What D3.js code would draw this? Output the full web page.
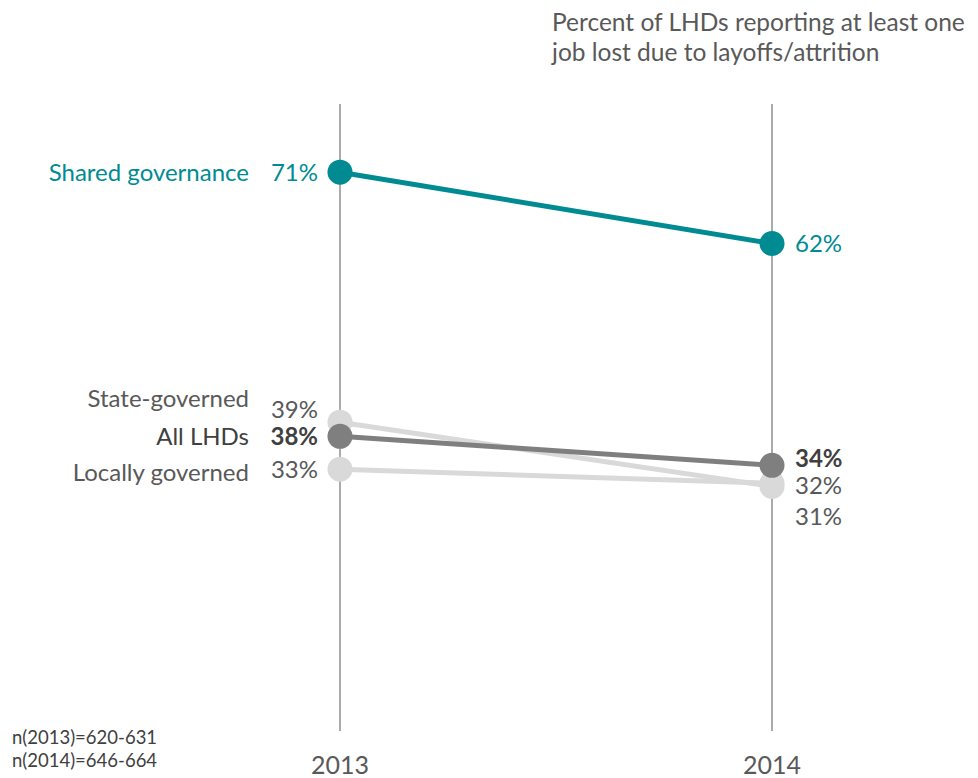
<!DOCTYPE html>
<html><head><meta charset="utf-8">
<script src="https://cdn.jsdelivr.net/npm/d3@7"></script>
<style>body{margin:0;background:#fff;} text{font-family:Lato, "Open Sans", sans-serif;}</style>
</head><body>
<svg id="c" width="978" height="778"></svg>
<script>
const years = ["2013", "2014"];
const seriesNames = ["Shared governance", "State-governed", "All LHDs", "Locally governed"];
const shared = [71.3, 62.2];
const stateGov = [39.4, 31.2];
const allLHDs = [37.6, 33.9];
const localGov = [33.4, 31.6];
const title = ["Percent of LHDs reporting at least one", "job lost due to layoffs/attrition"];
const notes = ["n(2013)=620-631", "n(2014)=646-664"];

const series = [
  {name: seriesNames[1], values: stateGov, color: "#d9d9d9", text: "#595959", bold: false, nameDy: -24, dyL: -13, dyR: 30},
  {name: seriesNames[3], values: localGov, color: "#d9d9d9", text: "#595959", bold: false, nameDy: 3, dyL: 0, dyR: 2},
  {name: seriesNames[2], values: allLHDs, color: "#7f7f7f", text: "#404040", bold: true, nameDy: 0, dyL: 0, dyR: -7},
  {name: seriesNames[0], values: shared, color: "#008b92", text: "#008b92", bold: false, nameDy: 0, dyL: 0, dyR: 0}
];

const svg = d3.select("#c");
const x = d3.scalePoint().domain(years).range([340, 772]);
const y = d3.scaleLinear().domain([0, 80]).range([731, 104]);

svg.append("g").selectAll("line").data(years).join("line")
  .attr("x1", d => x(d)).attr("x2", d => x(d))
  .attr("y1", y(80)).attr("y2", y(0))
  .attr("stroke", "#ababab").attr("stroke-width", 2);

svg.append("g").selectAll("text").data(years).join("text")
  .attr("x", d => x(d)).attr("y", 774)
  .attr("text-anchor", "middle").attr("font-size", 25).attr("fill", "#595959")
  .text(d => d);

const line = d3.line().x((d, i) => x(years[i])).y(d => y(d));
const fmt = d3.format(".0f");

series.forEach(s => {
  const g = svg.append("g");
  g.append("path").attr("d", line(s.values)).attr("fill", "none")
    .attr("stroke", s.color).attr("stroke-width", 5);
  g.selectAll("circle").data(s.values).join("circle")
    .attr("cx", (d, i) => x(years[i])).attr("cy", d => y(d)).attr("r", 12.5)
    .attr("fill", s.color);
});

series.forEach(s => {
  const g = svg.append("g").attr("fill", s.text).attr("font-size", 24)
    .attr("font-weight", s.bold ? "bold" : "normal");
  g.append("text").attr("x", x(years[0]) - 22).attr("y", y(s.values[0]) + s.dyL)
    .attr("dy", "0.35em").attr("text-anchor", "end").text(fmt(s.values[0]) + "%");
  g.append("text").attr("x", x(years[1]) + 23).attr("y", y(s.values[1]) + s.dyR)
    .attr("dy", "0.35em").attr("text-anchor", "start").text(fmt(s.values[1]) + "%");
  svg.append("text").attr("x", 249).attr("y", y(s.values[0]) + s.nameDy)
    .attr("dy", "0.35em").attr("text-anchor", "end").attr("font-size", 24)
    .attr("fill", s.text).text(s.name);
});

svg.append("g").selectAll("text").data(title).join("text")
  .attr("x", 552).attr("y", (d, i) => 31 + i * 30)
  .attr("font-size", 24.5).attr("fill", "#595959").text(d => d);

svg.append("g").selectAll("text").data(notes).join("text")
  .attr("x", 12).attr("y", (d, i) => 744 + i * 23)
  .attr("font-size", 18.5).attr("fill", "#404040").text(d => d);
</script>
</body></html>
